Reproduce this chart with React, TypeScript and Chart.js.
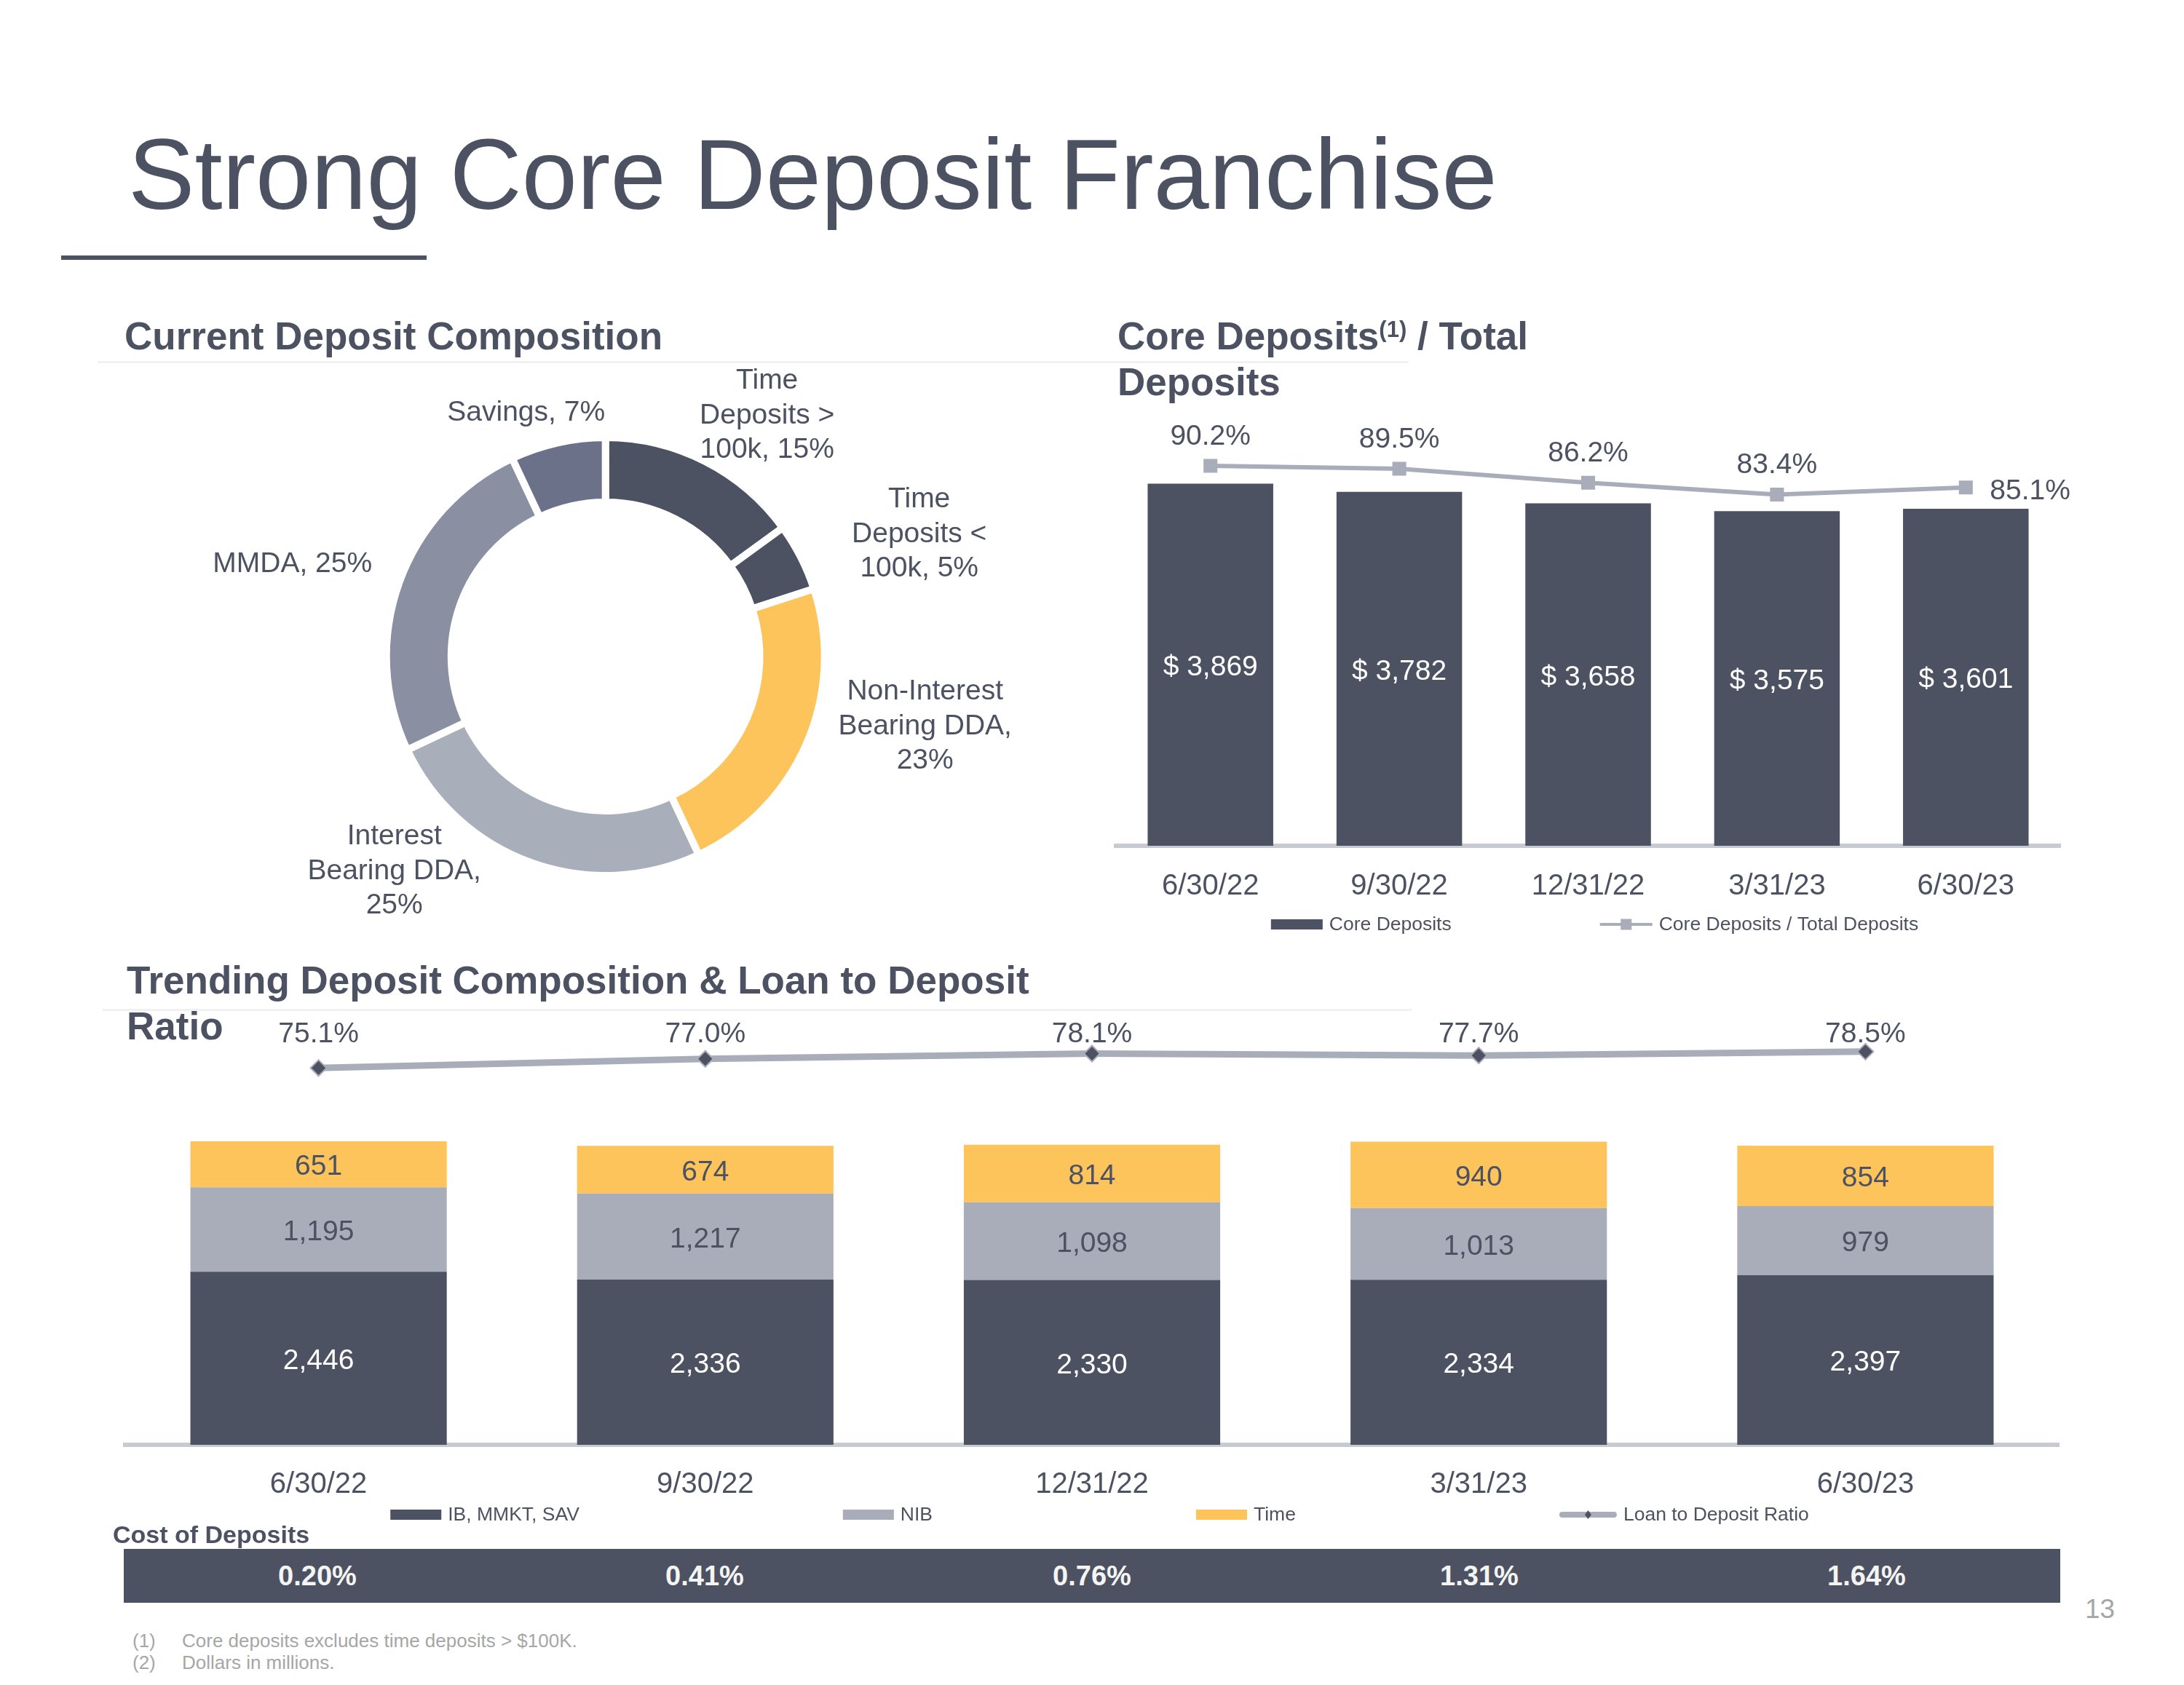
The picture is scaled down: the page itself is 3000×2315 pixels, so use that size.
import React, { useEffect, useRef } from "react";
import { Chart, registerables } from "chart.js";

Chart.register(...registerables);

const FONT = "'Liberation Sans', Arial, Helvetica, sans-serif";
Chart.defaults.font.family = FONT;

const DARK = "#4d5263";
const GRAY = "#a8adb9";
const YELLOW = "#fcc45b";
const TEXT = "#4d5263";
const AXIS = "#c8cad1";
const NOTE = "#a6a6a6";

// ---- Current Deposit Composition (doughnut) ----
const compositionCategories = [
  "Time Deposits > 100k",
  "Time Deposits < 100k",
  "Non-Interest Bearing DDA",
  "Interest Bearing DDA",
  "MMDA",
  "Savings",
];
const compositionShares = [15, 5, 23, 25, 25, 7];
const compositionColors = [DARK, DARK, YELLOW, "#a9aebb", "#8a90a2", "#6b7189"];
// label block centre, relative to the doughnut centre (layout only)
const compositionLabelOffsets = [
  [222, -333],
  [431, -170],
  [439, 94],
  [-290, 293],
  [-430, -129],
  [-109, -337],
];

// ---- Core Deposits / Total Deposits ----
const periods = ["6/30/22", "9/30/22", "12/31/22", "3/31/23", "6/30/23"];
const coreDeposits = [3869, 3782, 3658, 3575, 3601];
const coreToTotalPct = [90.2, 89.5, 86.2, 83.4, 85.1];

// ---- Trending Deposit Composition & Loan to Deposit Ratio ----
const ibMmktSav = [2446, 2336, 2330, 2334, 2397];
const nonInterestBearing = [1195, 1217, 1098, 1013, 979];
const timeDeposits = [651, 674, 814, 940, 854];
const loanToDepositPct = [75.1, 77.0, 78.1, 77.7, 78.5];
const costOfDepositsPct = [0.2, 0.41, 0.76, 1.31, 1.64];

const footnotes = [
  ["(1)", "Core deposits excludes time deposits > $100K."],
  ["(2)", "Dollars in millions."],
];

function wrapLines(ctx: CanvasRenderingContext2D, text: string, maxWidth: number) {
  const words = text.split(" ");
  const lines: string[] = [];
  let cur = "";
  for (const w of words) {
    const test = cur ? cur + " " + w : w;
    if (cur && ctx.measureText(test).width > maxWidth) {
      lines.push(cur);
      cur = w;
    } else cur = test;
  }
  if (cur) lines.push(cur);
  return lines;
}

function fmt(kind: string, v: number) {
  if (kind === "dollar") return "$ " + v.toLocaleString("en-US");
  if (kind === "int") return v.toLocaleString("en-US");
  return v.toFixed(1) + "%";
}

const donutLabels = {
  id: "donutLabels",
  afterDatasetsDraw(chart: any, _a: any, opts: any) {
    const { ctx } = chart;
    const meta = chart.getDatasetMeta(0);
    const ds = chart.data.datasets[0];
    ctx.save();
    ctx.font = `${opts.size}px ${FONT}`;
    ctx.fillStyle = opts.color;
    ctx.textAlign = "center";
    ctx.textBaseline = "middle";
    meta.data.forEach((arc: any, i: number) => {
      const text = `${chart.data.labels[i]}, ${ds.data[i]}%`;
      const lines = wrapLines(ctx, text, opts.maxWidth);
      const off = compositionLabelOffsets[i];
      const cx = arc.x + off[0];
      const cy = arc.y + off[1];
      lines.forEach((ln, k) => {
        ctx.fillText(ln, cx, cy + (k - (lines.length - 1) / 2) * opts.lineHeight + 2);
      });
    });
    ctx.restore();
  },
};

const valueLabels = {
  id: "valueLabels",
  afterDatasetsDraw(chart: any, _a: any, opts: any) {
    const { ctx, chartArea } = chart;
    const dy = opts.dy || 0;
    ctx.save();
    ctx.font = `${opts.size}px ${FONT}`;
    ctx.textBaseline = "middle";
    chart.data.datasets.forEach((ds: any, di: number) => {
      const cfg = ds.valueLabel;
      if (!cfg) return;
      const meta = chart.getDatasetMeta(di);
      ctx.fillStyle = cfg.color;
      meta.data.forEach((el: any, i: number) => {
        const text = fmt(cfg.format, ds.data[i]);
        let x = el.x;
        let y = el.y;
        ctx.textAlign = "center";
        if (meta.type === "bar") {
          y = (el.y + el.base) / 2;
        } else if (cfg.fixedTop != null) {
          y = chartArea.top + cfg.fixedTop;
        } else if (cfg.lastRight != null && i === ds.data.length - 1) {
          ctx.textAlign = "left";
          x = el.x + cfg.lastRight;
          y = el.y + 2;
        } else {
          y = el.y - cfg.above;
        }
        ctx.fillText(text, x, y + dy);
      });
    });
    ctx.restore();
  },
};

const slideLegend = {
  id: "slideLegend",
  afterDraw(chart: any, _a: any, opts: any) {
    if (!opts || !opts.y) return;
    const { ctx, chartArea } = chart;
    const dsets = chart.data.datasets;
    ctx.save();
    ctx.font = `${opts.size}px ${FONT}`;
    ctx.textBaseline = "middle";
    ctx.textAlign = "left";
    const markW = (d: any) => (d.type === "line" ? opts.lineItemWidth : opts.boxWidth);
    const widths = dsets.map((d: any) => markW(d) + opts.textGap + ctx.measureText(d.label).width);
    const total = widths.reduce((a: number, b: number) => a + b, 0) + opts.gap * (dsets.length - 1);
    let x = (chartArea.left + chartArea.right) / 2 - total / 2 + (opts.shift || 0);
    const y = opts.y;
    dsets.forEach((d: any, i: number) => {
      const w = markW(d);
      if (d.type === "line") {
        ctx.strokeStyle = d.borderColor;
        ctx.lineWidth = opts.lineWidth;
        ctx.lineCap = opts.lineCap;
        const capPad = opts.lineCap === "round" ? opts.lineWidth / 2 : 0;
        ctx.beginPath();
        ctx.moveTo(x + capPad, y);
        ctx.lineTo(x + w - capPad, y);
        ctx.stroke();
        const mx = x + w / 2;
        ctx.fillStyle = d.pointBackgroundColor;
        ctx.beginPath();
        if (opts.marker === "diamond") {
          const r = opts.markerSize;
          ctx.moveTo(mx, y - r);
          ctx.lineTo(mx + r * 0.75, y);
          ctx.lineTo(mx, y + r);
          ctx.lineTo(mx - r * 0.75, y);
          ctx.closePath();
        } else {
          const s = opts.markerSize;
          ctx.rect(mx - s / 2, y - s / 2, s, s);
        }
        ctx.fill();
      } else {
        ctx.fillStyle = d.backgroundColor;
        ctx.fillRect(x, y - opts.boxHeight / 2, w, opts.boxHeight);
      }
      ctx.fillStyle = opts.color;
      ctx.fillText(d.label, x + w + opts.textGap, y + 1);
      x += widths[i] + opts.gap;
    });
    ctx.restore();
  },
};

const xAxis = (labelSize: number, pad: number) => ({
  offset: true,
  grid: { display: false, drawTicks: false },
  border: { display: true, color: AXIS, width: 6 },
  ticks: {
    color: TEXT,
    font: { size: labelSize, family: FONT },
    padding: pad,
    maxRotation: 0,
    autoSkip: false,
  },
  afterFit: (s: any) => {
    s.height = 100;
  },
});

function donutConfig(): any {
  return {
    type: "doughnut",
    data: {
      labels: compositionCategories,
      datasets: [
        {
          data: compositionShares,
          backgroundColor: compositionColors,
          borderColor: "#ffffff",
          borderWidth: 10,
          hoverBorderWidth: 10,
          hoverOffset: 0,
        },
      ],
    },
    options: {
      responsive: false,
      animation: false,
      events: [],
      cutout: "70.4%",
      layout: { padding: { left: 325.7, right: 362.3, top: 126, bottom: 122 } },
      plugins: {
        legend: { display: false },
        tooltip: { enabled: false },
        donutLabels: { size: 39, color: TEXT, maxWidth: 243, lineHeight: 47.5 },
      },
    },
    plugins: [donutLabels],
  };
}

function coreConfig(): any {
  return {
    type: "bar",
    data: {
      labels: periods,
      datasets: [
        {
          type: "bar",
          label: "Core Deposits",
          data: coreDeposits,
          backgroundColor: DARK,
          yAxisID: "y",
          order: 1,
          categoryPercentage: 1,
          barPercentage: 0.665,
          valueLabel: { format: "dollar", color: "#ffffff" },
        },
        {
          type: "line",
          label: "Core Deposits / Total Deposits",
          data: coreToTotalPct,
          yAxisID: "y1",
          borderColor: GRAY,
          borderWidth: 6,
          tension: 0,
          pointStyle: "rect",
          pointRadius: 13.5,
          pointBackgroundColor: GRAY,
          pointBorderColor: GRAY,
          pointBorderWidth: 0,
          order: 0,
          valueLabel: { format: "pct1", color: TEXT, above: 44, lastRight: 33 },
        },
      ],
    },
    options: {
      responsive: false,
      animation: false,
      events: [],
      layout: { padding: { left: 53, right: 70, top: 39, bottom: 68 } },
      scales: {
        x: xAxis(40, 32),
        y: { display: false, min: 0, max: 5000 },
        y1: { display: false, min: 0.51, max: 110.99 },
      },
      plugins: {
        legend: { display: false },
        tooltip: { enabled: false },
        valueLabels: { size: 39, dy: 4 },
        slideLegend: {
          y: 790,
          size: 26.5,
          color: TEXT,
          gap: 204,
          shift: 9,
          boxWidth: 71,
          boxHeight: 14,
          lineItemWidth: 72,
          lineWidth: 4,
          lineCap: "butt",
          marker: "square",
          markerSize: 15,
          textGap: 9,
        },
      },
    },
    plugins: [valueLabels, slideLegend],
  };
}

function trendConfig(): any {
  return {
    type: "bar",
    data: {
      labels: periods,
      datasets: [
        {
          type: "bar",
          label: "IB, MMKT, SAV",
          data: ibMmktSav,
          backgroundColor: DARK,
          yAxisID: "y",
          order: 1,
          categoryPercentage: 1,
          barPercentage: 0.663,
          valueLabel: { format: "int", color: "#ffffff" },
        },
        {
          type: "bar",
          label: "NIB",
          data: nonInterestBearing,
          backgroundColor: GRAY,
          yAxisID: "y",
          order: 1,
          categoryPercentage: 1,
          barPercentage: 0.663,
          valueLabel: { format: "int", color: TEXT },
        },
        {
          type: "bar",
          label: "Time",
          data: timeDeposits,
          backgroundColor: YELLOW,
          yAxisID: "y",
          order: 1,
          categoryPercentage: 1,
          barPercentage: 0.663,
          valueLabel: { format: "int", color: TEXT },
        },
        {
          type: "line",
          label: "Loan to Deposit Ratio",
          data: loanToDepositPct,
          yAxisID: "y1",
          borderColor: GRAY,
          borderWidth: 9,
          tension: 0,
          pointStyle: "rectRot",
          pointRadius: 11,
          pointBackgroundColor: DARK,
          pointBorderColor: GRAY,
          pointBorderWidth: 2,
          order: 0,
          valueLabel: { format: "pct1", color: TEXT, fixedTop: 53 },
        },
      ],
    },
    options: {
      responsive: false,
      animation: false,
      events: [],
      layout: { padding: { left: 52, right: 52, top: 34, bottom: 25 } },
      scales: {
        x: { ...xAxis(40, 31), stacked: true },
        y: { display: false, stacked: true, min: 0, max: 6390 },
        y1: { display: false, stacked: false, min: -3.34, max: 90.75 },
      },
      plugins: {
        legend: { display: false },
        tooltip: { enabled: false },
        valueLabels: { size: 39, dy: 4 },
        slideLegend: {
          y: 751,
          size: 26.5,
          color: TEXT,
          gap: 362,
          shift: 10.5,
          boxWidth: 70,
          boxHeight: 14,
          lineItemWidth: 79,
          lineWidth: 8,
          lineCap: "round",
          marker: "diamond",
          markerSize: 6,
          textGap: 9,
        },
      },
    },
    plugins: [valueLabels, slideLegend],
  };
}

function ChartBox(props: { left: number; top: number; width: number; height: number; make: () => any }) {
  const { left, top, width, height, make } = props;
  const ref = useRef<HTMLCanvasElement>(null);
  useEffect(() => {
    const chart = new Chart(ref.current as HTMLCanvasElement, make());
    return () => chart.destroy();
  }, []);
  return (
    <div style={{ position: "absolute", left, top, width, height }}>
      <canvas ref={ref} width={width} height={height} style={{ width, height, display: "block" }} />
    </div>
  );
}

function Txt(props: { x: number; base: number; size: number; weight?: number; color?: string; children: any }) {
  const { x, base, size, weight = 400, color = TEXT, children } = props;
  return (
    <div
      style={{
        position: "absolute",
        left: x,
        top: base - 0.8465 * size,
        fontSize: size,
        lineHeight: `${size}px`,
        fontFamily: FONT,
        fontWeight: weight,
        color,
        whiteSpace: "nowrap",
      }}
    >
      {children}
    </div>
  );
}

function Rect(props: { x: number; y: number; w: number; h: number; color: string }) {
  const { x, y, w, h, color } = props;
  return <div style={{ position: "absolute", left: x, top: y, width: w, height: h, background: color }} />;
}

export default function App() {
  return (
    <div
      style={{
        position: "absolute",
        left: 0,
        top: 0,
        width: 3000,
        height: 2315,
        overflow: "hidden",
        background: "#ffffff",
        fontFamily: FONT,
      }}
    >
      <ChartBox left={200} top={470} width={1300} height={860} make={donutConfig} />
      <ChartBox left={1480} top={480} width={1420} height={850} make={coreConfig} />
      <ChartBox left={120} top={1330} width={2760} height={780} make={trendConfig} />

      <Txt x={176} base={287} size={137}>
        Strong Core Deposit Franchise
      </Txt>
      <Rect x={84} y={351} w={502} h={6} color={DARK} />

      <Rect x={134} y={496} w={1801} h={3} color="#f1f1f3" />
      <Txt x={171} base={480} size={53} weight={700}>
        Current Deposit Composition
      </Txt>
      <Txt x={1535} base={480} size={53} weight={700}>
        Core Deposits
        <span style={{ fontSize: 31, position: "relative", top: -17 }}>(1)</span> / Total
      </Txt>
      <Txt x={1535} base={543} size={53} weight={700}>
        Deposits
      </Txt>

      <Rect x={141} y={1386} w={1798} h={3} color="#f1f1f3" />
      <Txt x={174} base={1365} size={53} weight={700}>
        Trending Deposit Composition &amp; Loan to Deposit
      </Txt>
      <Txt x={174} base={1428} size={53} weight={700}>
        Ratio
      </Txt>

      <Txt x={155} base={2120} size={34} weight={700}>
        Cost of Deposits
      </Txt>
      <div
        style={{
          position: "absolute",
          left: 170,
          top: 2128,
          width: 2660,
          height: 74,
          background: DARK,
          display: "flex",
          alignItems: "center",
        }}
      >
        {costOfDepositsPct.map((v, i) => (
          <div
            key={i}
            style={{
              flex: 1,
              textAlign: "center",
              color: "#f4f4f2",
              fontWeight: 700,
              fontSize: 38,
              lineHeight: "38px",
              fontFamily: FONT,
            }}
          >
            {v.toFixed(2)}%
          </div>
        ))}
      </div>

      <Txt x={2864} base={2223} size={37} color={NOTE}>
        13
      </Txt>

      {footnotes.map((f, i) => (
        <React.Fragment key={i}>
          <Txt x={182} base={2263 + i * 30} size={26} color={NOTE}>
            {f[0]}
          </Txt>
          <Txt x={250} base={2263 + i * 30} size={26} color={NOTE}>
            {f[1]}
          </Txt>
        </React.Fragment>
      ))}
    </div>
  );
}
